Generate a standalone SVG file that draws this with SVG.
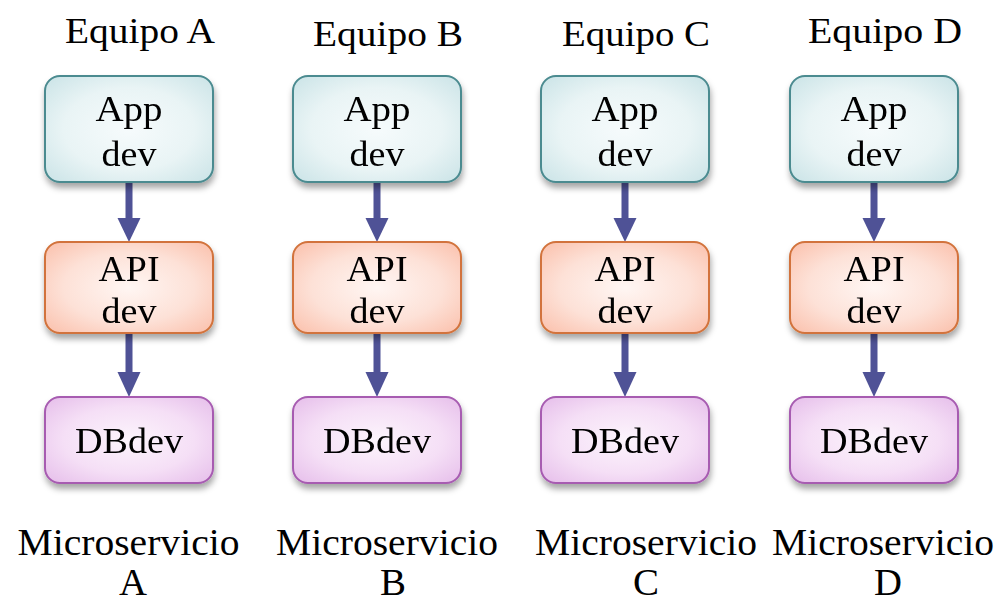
<svg xmlns="http://www.w3.org/2000/svg" width="1002" height="601" viewBox="0 0 1002 601" font-family="'Liberation Serif', 'Times New Roman', 'DejaVu Serif', serif">
<style>
text{fill:#000;text-anchor:middle}
.t{font-size:36px}
.b{font-size:36px}
.m{font-size:38px}
.app{fill:url(#gApp);stroke:#4b8b90;stroke-width:2}
.api{fill:url(#gApi);stroke:#d2733c;stroke-width:2}
.db{fill:url(#gDb);stroke:#a75cb1;stroke-width:2}
.box{filter:url(#sh)}
.arr{fill:#4f5296}
</style>
<defs>
<radialGradient id="gApp" cx="50%" cy="50%" r="65%"><stop offset="0" stop-color="#f6fbfc"/><stop offset="0.6" stop-color="#e9f4f5"/><stop offset="1" stop-color="#cfe6e9"/></radialGradient>
<radialGradient id="gApi" cx="50%" cy="50%" r="65%"><stop offset="0" stop-color="#fff6f3"/><stop offset="0.6" stop-color="#fde1d7"/><stop offset="1" stop-color="#fbc5b2"/></radialGradient>
<radialGradient id="gDb" cx="50%" cy="50%" r="65%"><stop offset="0" stop-color="#fcf4fc"/><stop offset="0.6" stop-color="#f5dff6"/><stop offset="1" stop-color="#e8c3ec"/></radialGradient>
<filter id="sh" x="-20%" y="-20%" width="140%" height="150%"><feDropShadow dx="1" dy="5" stdDeviation="3" flood-color="#000" flood-opacity="0.35"/></filter>
<g id="arrow"><rect x="-3.5" y="0" width="7" height="40"/><polygon points="-11.5,36 11.5,36 0,60"/></g>
<g id="arrow2"><rect x="-3.5" y="0" width="7" height="42"/><polygon points="-11.5,39 11.5,39 0,64"/></g>
</defs>
<g id="titles">
<text class="t" x="140" y="43" textLength="150" lengthAdjust="spacingAndGlyphs">Equipo A</text>
<text class="t" x="388" y="46" textLength="150" lengthAdjust="spacingAndGlyphs">Equipo B</text>
<text class="t" x="636" y="46" textLength="148" lengthAdjust="spacingAndGlyphs">Equipo C</text>
<text class="t" x="885" y="43" textLength="154" lengthAdjust="spacingAndGlyphs">Equipo D</text>
</g>
<g id="connectors" class="arr">
<use href="#arrow" x="129" y="182"/><use href="#arrow2" x="129" y="333"/>
<use href="#arrow" x="377" y="182"/><use href="#arrow2" x="377" y="333"/>
<use href="#arrow" x="625" y="182"/><use href="#arrow2" x="625" y="333"/>
<use href="#arrow" x="874" y="182"/><use href="#arrow2" x="874" y="333"/>
</g>
<g id="appA" class="box"><rect class="app" x="45" y="76" width="168" height="106" rx="15"/><text class="b" x="129" y="121" textLength="67" lengthAdjust="spacingAndGlyphs">App</text><text class="b" x="129" y="166" textLength="55" lengthAdjust="spacingAndGlyphs">dev</text></g>
<g id="appB" class="box"><rect class="app" x="293" y="76" width="168" height="106" rx="15"/><text class="b" x="377" y="121" textLength="67" lengthAdjust="spacingAndGlyphs">App</text><text class="b" x="377" y="166" textLength="55" lengthAdjust="spacingAndGlyphs">dev</text></g>
<g id="appC" class="box"><rect class="app" x="541" y="76" width="168" height="106" rx="15"/><text class="b" x="625" y="121" textLength="67" lengthAdjust="spacingAndGlyphs">App</text><text class="b" x="625" y="166" textLength="55" lengthAdjust="spacingAndGlyphs">dev</text></g>
<g id="appD" class="box"><rect class="app" x="790" y="76" width="168" height="106" rx="15"/><text class="b" x="874" y="121" textLength="67" lengthAdjust="spacingAndGlyphs">App</text><text class="b" x="874" y="166" textLength="55" lengthAdjust="spacingAndGlyphs">dev</text></g>
<g id="apiA" class="box"><rect class="api" x="45" y="242" width="168" height="91" rx="15"/><text class="b" x="129" y="281" textLength="61" lengthAdjust="spacingAndGlyphs">API</text><text class="b" x="129" y="323" textLength="55" lengthAdjust="spacingAndGlyphs">dev</text></g>
<g id="apiB" class="box"><rect class="api" x="293" y="242" width="168" height="91" rx="15"/><text class="b" x="377" y="281" textLength="61" lengthAdjust="spacingAndGlyphs">API</text><text class="b" x="377" y="323" textLength="55" lengthAdjust="spacingAndGlyphs">dev</text></g>
<g id="apiC" class="box"><rect class="api" x="541" y="242" width="168" height="91" rx="15"/><text class="b" x="625" y="281" textLength="61" lengthAdjust="spacingAndGlyphs">API</text><text class="b" x="625" y="323" textLength="55" lengthAdjust="spacingAndGlyphs">dev</text></g>
<g id="apiD" class="box"><rect class="api" x="790" y="242" width="168" height="91" rx="15"/><text class="b" x="874" y="281" textLength="61" lengthAdjust="spacingAndGlyphs">API</text><text class="b" x="874" y="323" textLength="55" lengthAdjust="spacingAndGlyphs">dev</text></g>
<g id="dbA" class="box"><rect class="db" x="45" y="397" width="168" height="86" rx="15"/><text class="b" x="129" y="453" textLength="108" lengthAdjust="spacingAndGlyphs">DBdev</text></g>
<g id="dbB" class="box"><rect class="db" x="293" y="397" width="168" height="86" rx="15"/><text class="b" x="377" y="453" textLength="108" lengthAdjust="spacingAndGlyphs">DBdev</text></g>
<g id="dbC" class="box"><rect class="db" x="541" y="397" width="168" height="86" rx="15"/><text class="b" x="625" y="453" textLength="108" lengthAdjust="spacingAndGlyphs">DBdev</text></g>
<g id="dbD" class="box"><rect class="db" x="790" y="397" width="168" height="86" rx="15"/><text class="b" x="874" y="453" textLength="108" lengthAdjust="spacingAndGlyphs">DBdev</text></g>
<g id="labels">
<text class="m" x="128.5" y="555" textLength="222" lengthAdjust="spacingAndGlyphs">Microservicio</text><text class="m" x="133" y="595" textLength="28" lengthAdjust="spacingAndGlyphs">A</text>
<text class="m" x="387" y="555" textLength="222" lengthAdjust="spacingAndGlyphs">Microservicio</text><text class="m" x="393" y="595" textLength="26" lengthAdjust="spacingAndGlyphs">B</text>
<text class="m" x="646" y="555" textLength="222" lengthAdjust="spacingAndGlyphs">Microservicio</text><text class="m" x="646" y="595" textLength="26" lengthAdjust="spacingAndGlyphs">C</text>
<text class="m" x="883" y="555" textLength="222" lengthAdjust="spacingAndGlyphs">Microservicio</text><text class="m" x="888" y="595" textLength="28" lengthAdjust="spacingAndGlyphs">D</text>
</g>
</svg>
